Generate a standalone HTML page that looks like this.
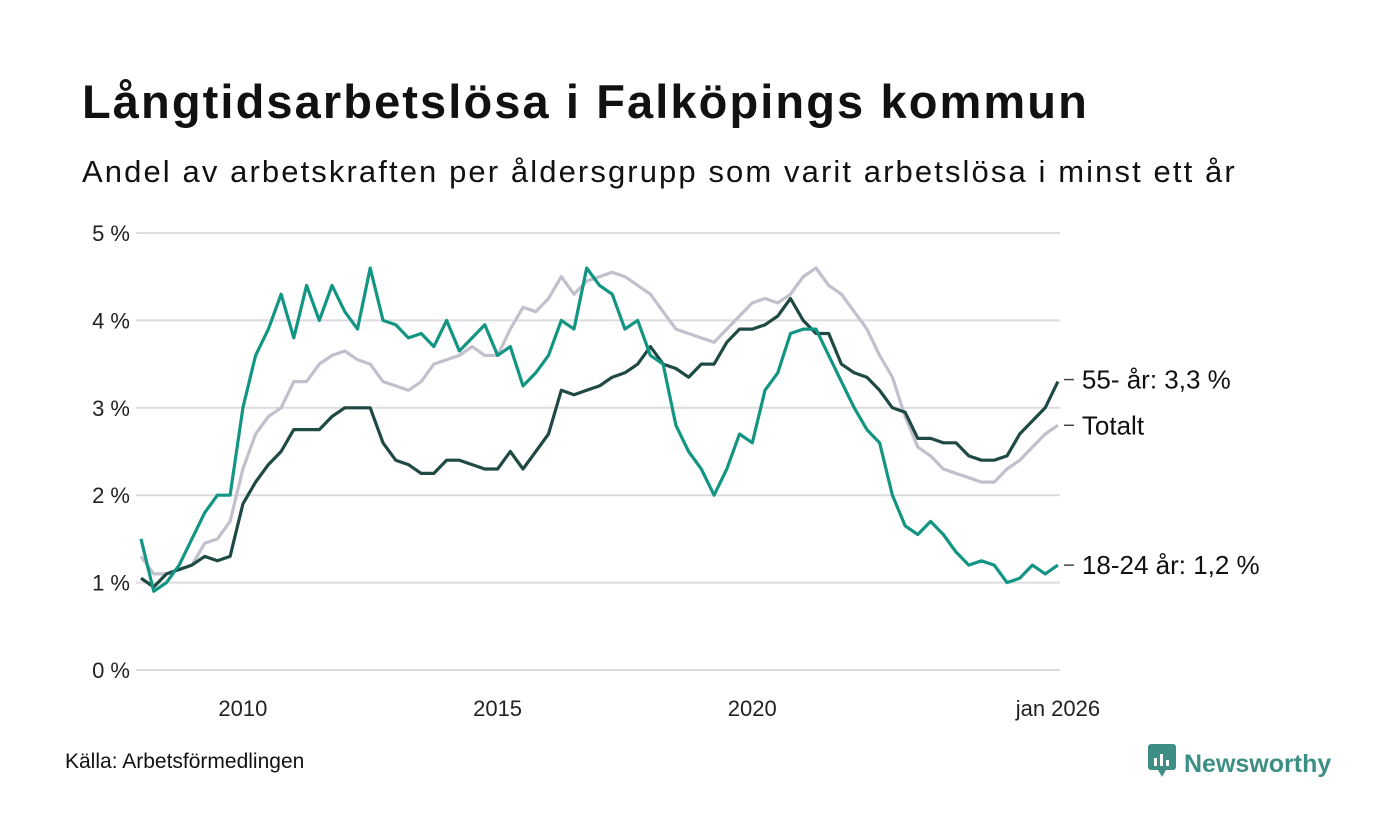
<!DOCTYPE html>
<html><head><meta charset="utf-8"><style>
body{margin:0;background:#fff;font-family:"Liberation Sans",sans-serif;}
#wrap{position:relative;width:1400px;height:840px;overflow:hidden;}
h1{position:absolute;left:82px;top:74px;margin:0;font-size:47px;letter-spacing:2.1px;font-weight:bold;color:#111;}
.sub{position:absolute;left:82px;top:154px;font-size:31px;letter-spacing:2.1px;color:#111;}
.src{position:absolute;left:65px;top:750px;font-size:21px;color:#111;}
.logo{position:absolute;left:1148px;top:744px;font-size:25px;font-weight:bold;color:#3d8f85;}
</style></head><body>
<div id="wrap">
<h1>Långtidsarbetslösa i Falköpings kommun</h1>
<div class="sub">Andel av arbetskraften per åldersgrupp som varit arbetslösa i minst ett år</div>
<svg id="chart" width="1400" height="840" style="position:absolute;left:0;top:0"></svg>
<div class="src">Källa: Arbetsförmedlingen</div>
<div class="logo"><svg width="28" height="34" style="vertical-align:-6px;margin-right:8px"><rect x="0" y="0" width="28" height="26" rx="3" fill="#3d8f85"/><polygon points="10,26 14,33 18,26" fill="#3d8f85"/><rect x="6" y="14" width="3" height="8" fill="#fff"/><rect x="12" y="10" width="3" height="12" fill="#fff"/><rect x="18" y="16" width="3" height="6" fill="#fff"/></svg>Newsworthy</div>
</div>
<script>
const startYear = 2008;
const stepYears = 0.25;
const youth = [1.5,0.9,1.0,1.2,1.5,1.8,2.0,2.0,3.0,3.6,3.9,4.3,3.8,4.4,4.0,4.4,4.1,3.9,4.6,4.0,3.95,3.8,3.85,3.7,4.0,3.65,3.8,3.95,3.6,3.7,3.25,3.4,3.6,4.0,3.9,4.6,4.4,4.3,3.9,4.0,3.6,3.5,2.8,2.5,2.3,2.0,2.3,2.7,2.6,3.2,3.4,3.85,3.9,3.9,3.6,3.3,3.0,2.75,2.6,2.0,1.65,1.55,1.7,1.55,1.35,1.2,1.25,1.2,1.0,1.05,1.2,1.1,1.2];
const older = [1.05,0.95,1.1,1.15,1.2,1.3,1.25,1.3,1.9,2.15,2.35,2.5,2.75,2.75,2.75,2.9,3.0,3.0,3.0,2.6,2.4,2.35,2.25,2.25,2.4,2.4,2.35,2.3,2.3,2.5,2.3,2.5,2.7,3.2,3.15,3.2,3.25,3.35,3.4,3.5,3.7,3.5,3.45,3.35,3.5,3.5,3.75,3.9,3.9,3.95,4.05,4.25,4.0,3.85,3.85,3.5,3.4,3.35,3.2,3.0,2.95,2.65,2.65,2.6,2.6,2.45,2.4,2.4,2.45,2.7,2.85,3.0,3.3];
const total = [1.3,1.1,1.1,1.15,1.2,1.45,1.5,1.7,2.3,2.7,2.9,3.0,3.3,3.3,3.5,3.6,3.65,3.55,3.5,3.3,3.25,3.2,3.3,3.5,3.55,3.6,3.7,3.6,3.6,3.9,4.15,4.1,4.25,4.5,4.3,4.45,4.5,4.55,4.5,4.4,4.3,4.1,3.9,3.85,3.8,3.75,3.9,4.05,4.2,4.25,4.2,4.3,4.5,4.6,4.4,4.3,4.1,3.9,3.6,3.35,2.9,2.55,2.45,2.3,2.25,2.2,2.15,2.15,2.3,2.4,2.55,2.7,2.8];
const yTicks = [0,1,2,3,4,5];
const yTickLabels = ["0 %","1 %","2 %","3 %","4 %","5 %"];
const xTicks = [2010,2015,2020,2026];
const xTickLabels = ["2010","2015","2020","jan 2026"];

const NS="http://www.w3.org/2000/svg";
const svg=document.getElementById('chart');
const X=y=>141+(y-2008)*50.94;
const Y=v=>670-v*87.4;
function el(t,a){const e=document.createElementNS(NS,t);for(const k in a)e.setAttribute(k,a[k]);svg.appendChild(e);return e;}
yTicks.forEach((t,i)=>{
  const g=el('line',{x1:136,x2:1060,y1:Y(t),y2:Y(t),stroke:'#dcdce0','stroke-width':2});
  
  
  const tx=el('text',{x:130,y:Y(t)+8,'text-anchor':'end','font-size':22,fill:'#222','font-family':'Liberation Sans, sans-serif'});
  tx.textContent=yTickLabels[i];
  
  
});
xTicks.forEach((t,i)=>{
  const tx=el('text',{x:X(t),y:716,'text-anchor':'middle','font-size':22,fill:'#222','font-family':'Liberation Sans, sans-serif'});
  tx.textContent=xTickLabels[i];
  
  
});
function line(data,color,name){
  const pts=data.map((v,i)=>X(startYear+i*stepYears).toFixed(1)+','+Y(v).toFixed(1)).join(' ');
  const p=el('polyline',{points:pts,fill:'none',stroke:color,'stroke-width':3.2,'stroke-linejoin':'round'});
  
  
}
line(total,'#c2c0cc','line-totalt');
line(older,'#1f4a43','line-55-plus');
line(youth,'#139584','line-18-24');
function label(v,text,name,dy){
  const lx=X(startYear+(youth.length-1)*stepYears);
  const l=el('line',{x1:lx+6,x2:lx+16,y1:Y(v)+dy,y2:Y(v)+dy,stroke:'#444','stroke-width':1.5});
  
  
  const t=el('text',{x:lx+24,y:Y(v)+dy+9,'font-size':26,fill:'#111','font-family':'Liberation Sans, sans-serif'});
  t.textContent=text;
  
  
}
label(older[older.length-1],'55- år: 3,3 %','label-55-plus',-2);
label(total[total.length-1],'Totalt','label-totalt',0);
label(youth[youth.length-1],'18-24 år: 1,2 %','label-18-24',0);
</script>
</body></html>
